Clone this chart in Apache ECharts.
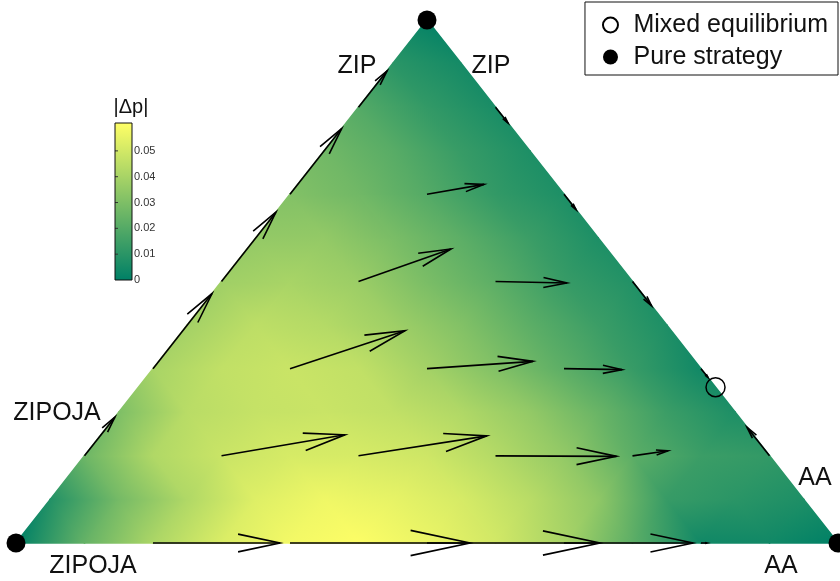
<!DOCTYPE html>
<html>
<head>
<meta charset="utf-8">
<script src="https://cdn.jsdelivr.net/npm/echarts@6/dist/echarts.min.js"></script>
<style>
  html, body { margin: 0; padding: 0; background: #fff; }
  #chart { width: 840px; height: 581px; }
</style>
</head>
<body>
<div id="chart"></div>
<script>
// |Δp| on a barycentric lattice with step 1/12.
// Row i: ZIP share = i/12; entry j: AA share = j/12; ZIPOJA takes the rest.
const dpRows = [
  [0.000, 0.024, 0.041, 0.052, 0.058, 0.060, 0.056, 0.050, 0.040, 0.022, 0.004, 0.004, 0.000],
  [0.008, 0.028, 0.042, 0.053, 0.057, 0.055, 0.051, 0.044, 0.034, 0.013, 0.010, 0.007],
  [0.026, 0.042, 0.048, 0.051, 0.051, 0.049, 0.043, 0.035, 0.022, 0.014, 0.012],
  [0.030, 0.044, 0.047, 0.048, 0.046, 0.042, 0.035, 0.025, 0.014, 0.007],
  [0.040, 0.046, 0.048, 0.046, 0.039, 0.031, 0.022, 0.013, 0.004],
  [0.039, 0.045, 0.043, 0.038, 0.031, 0.022, 0.014, 0.007],
  [0.038, 0.040, 0.037, 0.029, 0.022, 0.013, 0.008],
  [0.035, 0.035, 0.029, 0.022, 0.014, 0.007],
  [0.031, 0.027, 0.020, 0.012, 0.007],
  [0.027, 0.021, 0.013, 0.007],
  [0.020, 0.012, 0.006],
  [0.010, 0.005],
  [0.001]
];

// Direction field: arrow tails on the 1/6 lattice (shares of AA and ZIP, in sixths)
const arrowTailAA6  = [1, 2, 3, 4, 5,   0, 1, 2, 3, 4, 5,   0, 1, 2, 3, 4,   0, 1, 2, 3,   0, 1, 2,   0, 1];
const arrowTailZIP6 = [0, 0, 0, 0, 0,   1, 1, 1, 1, 1, 1,   2, 2, 2, 2, 2,   3, 3, 3, 3,   4, 4, 4,   5, 5];
// Arrow components in the ternary plane (horizontal, vertical)
const arrowDX = [0.1545, 0.2190, 0.2105, 0.1570, 0.0073,
                 0.0370, 0.1502, 0.1563, 0.1472, 0.0432, -0.0274,
                 0.0718, 0.1399, 0.1290, 0.0706, 0.0085,
                 0.0663, 0.1125, 0.0870, 0.0231,
                 0.0629, 0.0693, 0.0146,
                 0.0347, 0.0152];
const arrowDY = [0, 0, 0, 0, 0,
                 0.0740, 0.0402, 0.0382, -0.0010, 0.0096, 0.0548,
                 0.1436, 0.0727, 0.0140, -0.0019, -0.0170,
                 0.1326, 0.0621, -0.0029, -0.0462,
                 0.1258, 0.0191, -0.0292,
                 0.0693, -0.0304];

// Vertices (pure strategies) and the edge mixed equilibrium, as [AA, ZIP]
const pureStrategies = [[0, 0], [1, 0], [0, 1]];
const mixedEquilibria = [[0.702, 0.298]];

// Colour bar
const colorMax = 0.0608;
const colorTicks = [0, 0.01, 0.02, 0.03, 0.04, 0.05];

// Corner labels
const cornerLabels = [
  { text: 'ZIPOJA', x: 57,  y: 413 },
  { text: 'ZIPOJA', x: 93,  y: 566 },
  { text: 'ZIP',    x: 357, y: 66 },
  { text: 'ZIP',    x: 491, y: 66 },
  { text: 'AA',     x: 815, y: 478 },
  { text: 'AA',     x: 781, y: 566 }
];

// ---------------------------------------------------------------
const toPlane = (aa, zip) => [aa + zip / 2, zip];

// MATLAB-style "summer" map: linear from teal to yellow
function summer(v) {
  const t = Math.max(0, Math.min(1, v / colorMax));
  return 'rgb(' + Math.round(255 * t) + ',' + Math.round(128 + 127 * t) + ',102)';
}

// Triangulate the lattice; each item: [x0,y0,v0, x1,y1,v1, x2,y2,v2]
const N = dpRows.length - 1;
const node = (i, j) => toPlane(j / N, i / N).concat([dpRows[i][j]]);
const fieldTris = [];
for (let i = 0; i < N; i++) {
  for (let j = 0; j < N - i; j++) {
    fieldTris.push(node(i, j).concat(node(i, j + 1), node(i + 1, j)));
    if (j < N - i - 1) fieldTris.push(node(i, j + 1).concat(node(i + 1, j + 1), node(i + 1, j)));
  }
}

// Each cell is shaded with a linear gradient that follows the plane through its three values
function renderField(params, api) {
  const P = [], V = [];
  for (let k = 0; k < 3; k++) {
    P.push(api.coord([api.value(3 * k), api.value(3 * k + 1)]));
    V.push(api.value(3 * k + 2));
  }
  const [x0, y0] = P[0], [x1, y1] = P[1], [x2, y2] = P[2];
  const det = (x1 - x0) * (y2 - y0) - (x2 - x0) * (y1 - y0);
  const a = ((V[1] - V[0]) * (y2 - y0) - (V[2] - V[0]) * (y1 - y0)) / det;
  const b = ((x1 - x0) * (V[2] - V[0]) - (x2 - x0) * (V[1] - V[0])) / det;
  const vmin = Math.min(V[0], V[1], V[2]);
  const vmax = Math.max(V[0], V[1], V[2]);
  const g2 = a * a + b * b;
  let fill;
  if (vmax - vmin < 1e-9 || g2 < 1e-16) {
    fill = summer(vmin);
  } else {
    const A = P[V.indexOf(vmin)];
    const s = (vmax - vmin) / g2;
    fill = new echarts.graphic.LinearGradient(A[0], A[1], A[0] + a * s, A[1] + b * s,
      [{ offset: 0, color: summer(vmin) }, { offset: 1, color: summer(vmax) }], true);
  }
  return { type: 'polygon', shape: { points: P }, style: { fill: fill, stroke: fill, lineWidth: 1.6, lineJoin: 'round' } };
}

const arrowData = arrowTailAA6.map((k, n) => {
  const p = toPlane(k / 6, arrowTailZIP6[n] / 6);
  return [p[0], p[1], arrowDX[n], arrowDY[n]];
});

function renderArrow(params, api) {
  const x = api.value(0), y = api.value(1), dx = api.value(2), dy = api.value(3);
  const T = api.coord([x, y]);
  const H = api.coord([x + dx, y + dy]);
  const ux = H[0] - T[0], uy = H[1] - T[1];
  const b1 = [H[0] - 0.33 * ux - 0.07 * uy, H[1] - 0.33 * uy + 0.07 * ux];
  const b2 = [H[0] - 0.33 * ux + 0.07 * uy, H[1] - 0.33 * uy - 0.07 * ux];
  const st = { stroke: '#000', lineWidth: 1.6, fill: null };
  return {
    type: 'group',
    children: [
      { type: 'line', shape: { x1: T[0], y1: T[1], x2: H[0], y2: H[1] }, style: st },
      { type: 'polyline', shape: { points: [b1, H, b2] }, style: st }
    ]
  };
}

function renderColorbar(params, api) {
  const lo = api.coord([0, 0]);
  const hi = api.coord([1, api.value(1)]);
  const fill = new echarts.graphic.LinearGradient(0, lo[1], 0, hi[1],
    [{ offset: 0, color: summer(0) }, { offset: 1, color: summer(colorMax) }], true);
  return { type: 'rect', shape: { x: lo[0], y: hi[1], width: hi[0] - lo[0], height: lo[1] - hi[1] }, style: { fill: fill } };
}

const FONT = '"Liberation Sans", Arial, sans-serif';

const chart = echarts.init(document.getElementById('chart'), null, { renderer: 'canvas' });
chart.setOption({
  backgroundColor: '#fff',
  animation: false,
  grid: [
    { left: 16, right: 2, top: 20, bottom: 38 },
    { left: 115, top: 123, width: 17, height: 157, show: true, borderColor: '#111', borderWidth: 1, backgroundColor: 'transparent', z: 3 }
  ],
  xAxis: [
    { gridIndex: 0, type: 'value', min: 0, max: 1, show: false },
    { gridIndex: 1, type: 'value', min: 0, max: 1, show: false }
  ],
  yAxis: [
    { gridIndex: 0, type: 'value', min: 0, max: 1, show: false },
    {
      gridIndex: 1, type: 'value', position: 'right', min: 0, max: colorMax, interval: 0.01,
      axisLine: { show: false },
      axisTick: { show: false },
      splitLine: { show: false },
      axisLabel: {
        margin: 2, fontSize: 11, fontFamily: FONT, color: '#333',
        formatter: v => (colorTicks.some(t => Math.abs(t - v) < 1e-9) ? (v === 0 ? '0' : v.toFixed(2)) : '')
      }
    }
  ],
  legend: {
    data: ['Mixed equilibrium', 'Pure strategy'],
    orient: 'vertical',
    right: 2, top: 2,
    padding: [9, 10, 4, 17],
    itemGap: 4,
    itemWidth: 36, itemHeight: 15,
    backgroundColor: '#fff',
    borderColor: '#111', borderWidth: 1, borderRadius: 0,
    textStyle: { fontSize: 25, fontFamily: FONT, color: '#111', lineHeight: 28 }
  },
  series: [
    {
      type: 'custom', name: 'field', xAxisIndex: 0, yAxisIndex: 0,
      renderItem: renderField, data: fieldTris, clip: false, silent: true, z: 1
    },
    {
      type: 'custom', name: 'direction', xAxisIndex: 0, yAxisIndex: 0,
      renderItem: renderArrow, data: arrowData, clip: false, silent: true, z: 3
    },
    {
      type: 'scatter', name: 'Mixed equilibrium', xAxisIndex: 0, yAxisIndex: 0,
      data: mixedEquilibria.map(p => toPlane(p[0], p[1])),
      symbol: 'circle', symbolSize: 19,
      itemStyle: { color: 'rgba(255,255,255,0)', borderColor: '#000', borderWidth: 1.5, opacity: 1 },
      z: 4
    },
    {
      type: 'scatter', name: 'Pure strategy', xAxisIndex: 0, yAxisIndex: 0,
      data: pureStrategies.map(p => toPlane(p[0], p[1])),
      symbol: 'circle', symbolSize: 19,
      itemStyle: { color: '#000', opacity: 1 },
      z: 4
    },
    {
      type: 'custom', name: 'colorbar', xAxisIndex: 1, yAxisIndex: 1,
      renderItem: renderColorbar, data: [[0, colorMax]], silent: true, z: 1
    },
    {
      // short tick marks on the inner left side of the colour bar
      type: 'custom', name: 'colorbarTicks', xAxisIndex: 1, yAxisIndex: 1,
      data: colorTicks.slice(1).map(t => [0, t]), silent: true, z: 2,
      renderItem: (params, api) => {
        const p = api.coord([0, api.value(1)]);
        return { type: 'line', shape: { x1: p[0], y1: p[1], x2: p[0] + 3, y2: p[1] }, style: { stroke: '#333', lineWidth: 1 } };
      }
    }
  ],
  graphic: cornerLabels.map(l => ({
    type: 'text', x: l.x, y: l.y, silent: true,
    style: { text: l.text, font: '25px ' + FONT, fill: '#111', align: 'center', verticalAlign: 'middle' }
  })).concat([{
    type: 'text', x: 131, y: 107, silent: true,
    style: { text: '|Δp|', font: '20px ' + FONT, fill: '#111', align: 'center', verticalAlign: 'middle' }
  }])
});
</script>
</body>
</html>
